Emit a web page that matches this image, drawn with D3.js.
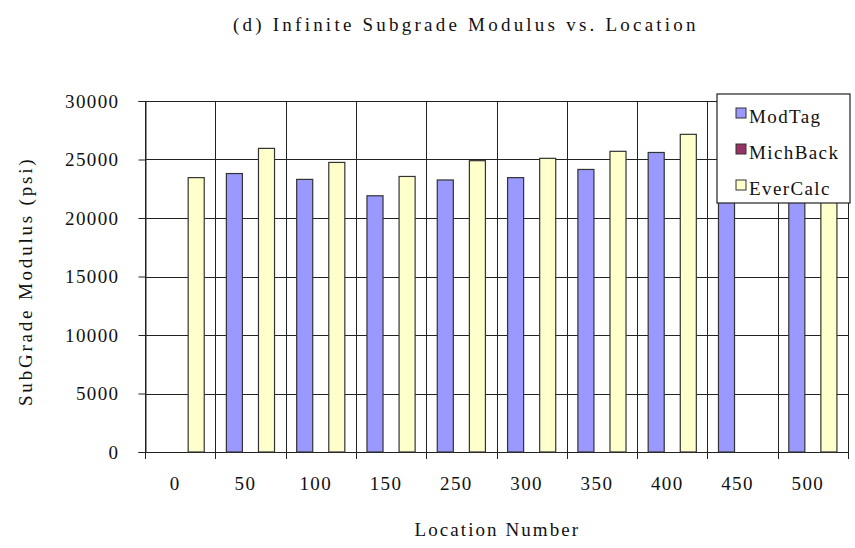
<!DOCTYPE html>
<html>
<head>
<meta charset="utf-8">
<script src="https://cdn.jsdelivr.net/npm/d3@7"></script>
<style>
  body { margin: 0; background: #fff; }
  svg text { font-family: "Liberation Serif", "DejaVu Serif", serif; font-size: 19px; fill: #111; letter-spacing: 1.4px; }
</style>
</head>
<body>
<svg id="chart" width="855" height="548"></svg>
<script>
// Daten
const categories = ["0", "50", "100", "150", "250", "300", "350", "400", "450", "500"];
const seriesNames = ["ModTag", "MichBack", "EverCalc"];
const modTag   = [null, 23800, 23300, 21900, 23250, 23450, 24150, 25600, 26500, 26000];
const michBack = [null, null, null, null, null, null, null, null, null, null];
const everCalc = [23450, 25950, 24750, 23550, 24900, 25100, 25700, 27150, null, 27500];
const yTicks = [0, 5000, 10000, 15000, 20000, 25000, 30000];
const colors = ["#9999ff", "#993366", "#ffffcc"];

const svg = d3.select("#chart");
const margin = { left: 145, right: 7, top: 101, bottom: 96 };
const width = +svg.attr("width");
const height = +svg.attr("height");
const plotW = width - margin.left - margin.right;
const plotH = height - margin.top - margin.bottom;

const x0 = d3.scaleBand().domain(categories).range([0, plotW]).padding(0);
const x1 = d3.scaleBand().domain(seriesNames).range([0, x0.bandwidth()])
    .paddingInner(0).paddingOuter(0.69);
const y = d3.scaleLinear().domain([0, 30000]).range([plotH, 0]);

const g = svg.append("g").attr("transform", `translate(${margin.left},${margin.top})`);

// Gitterlinien
g.selectAll(".hgrid").data(yTicks).enter().append("line")
    .attr("x1", 0).attr("x2", plotW)
    .attr("y1", d => Math.round(y(d)) + 0.5).attr("y2", d => Math.round(y(d)) + 0.5)
    .attr("stroke", "#222").attr("stroke-width", 1);

const vLines = categories.map(c => x0(c)).concat([plotW]);
g.selectAll(".vgrid").data(vLines).enter().append("line")
    .attr("x1", d => Math.round(d) + 0.5).attr("x2", d => Math.round(d) + 0.5)
    .attr("y1", 0).attr("y2", plotH)
    .attr("stroke", "#222").attr("stroke-width", 1);

// Balken
const seriesData = [modTag, michBack, everCalc];
const rows = [];
categories.forEach((c, i) => {
    seriesNames.forEach((s, j) => {
        const v = seriesData[j][i];
        if (v != null) rows.push({ cat: c, series: s, value: v, color: colors[j] });
    });
});

g.selectAll(".bar").data(rows).enter().append("rect")
    .attr("class", "bar")
    .attr("x", d => x0(d.cat) + x1(d.series))
    .attr("y", d => y(d.value))
    .attr("width", x1.bandwidth())
    .attr("height", d => plotH - y(d.value))
    .attr("fill", d => d.color)
    .attr("stroke", "#333")
    .attr("stroke-width", 1.2);

// Achsen
const yAxis = d3.axisLeft(y).tickValues(yTicks).tickSize(7).tickPadding(19).tickFormat(d3.format("d"));
const yG = g.append("g").attr("transform", "translate(0.5,0)").call(yAxis);
yG.select(".domain").attr("stroke", "#222");
yG.selectAll(".tick line").attr("stroke", "#222");
yG.selectAll("text").attr("font-family", null).attr("font-size", null);

const xTickG = g.append("g").attr("transform", `translate(0,${plotH})`);
xTickG.selectAll("line").data(vLines).enter().append("line")
    .attr("x1", d => Math.round(d) + 0.5).attr("x2", d => Math.round(d) + 0.5)
    .attr("y1", 0).attr("y2", 7)
    .attr("stroke", "#222");
xTickG.selectAll("text").data(categories).enter().append("text")
    .attr("x", d => x0(d) + x0.bandwidth() / 2 - 5)
    .attr("y", 38)
    .attr("text-anchor", "middle")
    .text(d => d);

// Titel und Achsentitel
svg.append("text")
    .attr("x", 465).attr("y", 31)
    .attr("text-anchor", "middle")
    .attr("textLength", 464).attr("lengthAdjust", "spacing")
    .text("(d) Infinite Subgrade Modulus vs. Location");

svg.append("text")
    .attr("x", 497).attr("y", 536)
    .attr("text-anchor", "middle")
    .attr("textLength", 165).attr("lengthAdjust", "spacing")
    .text("Location Number");

svg.append("text")
    .attr("transform", "translate(32,282) rotate(-90)")
    .attr("text-anchor", "middle")
    .attr("textLength", 248).attr("lengthAdjust", "spacing")
    .text("SubGrade Modulus (psi)");

// Legende
const legend = svg.append("g").attr("transform", "translate(717,94)");
legend.append("rect")
    .attr("width", 133).attr("height", 109)
    .attr("fill", "#fff").attr("stroke", "#222").attr("stroke-width", 1.2);

const items = legend.selectAll(".item").data(seriesNames).enter().append("g")
    .attr("transform", (d, i) => `translate(0,${22 + i * 36})`);
items.append("rect")
    .attr("x", 19).attr("y", -8)
    .attr("width", 10).attr("height", 10)
    .attr("fill", (d, i) => colors[i])
    .attr("stroke", "#333");
items.append("text")
    .attr("x", 32).attr("y", 7)
    .text(d => d);
</script>
</body>
</html>
